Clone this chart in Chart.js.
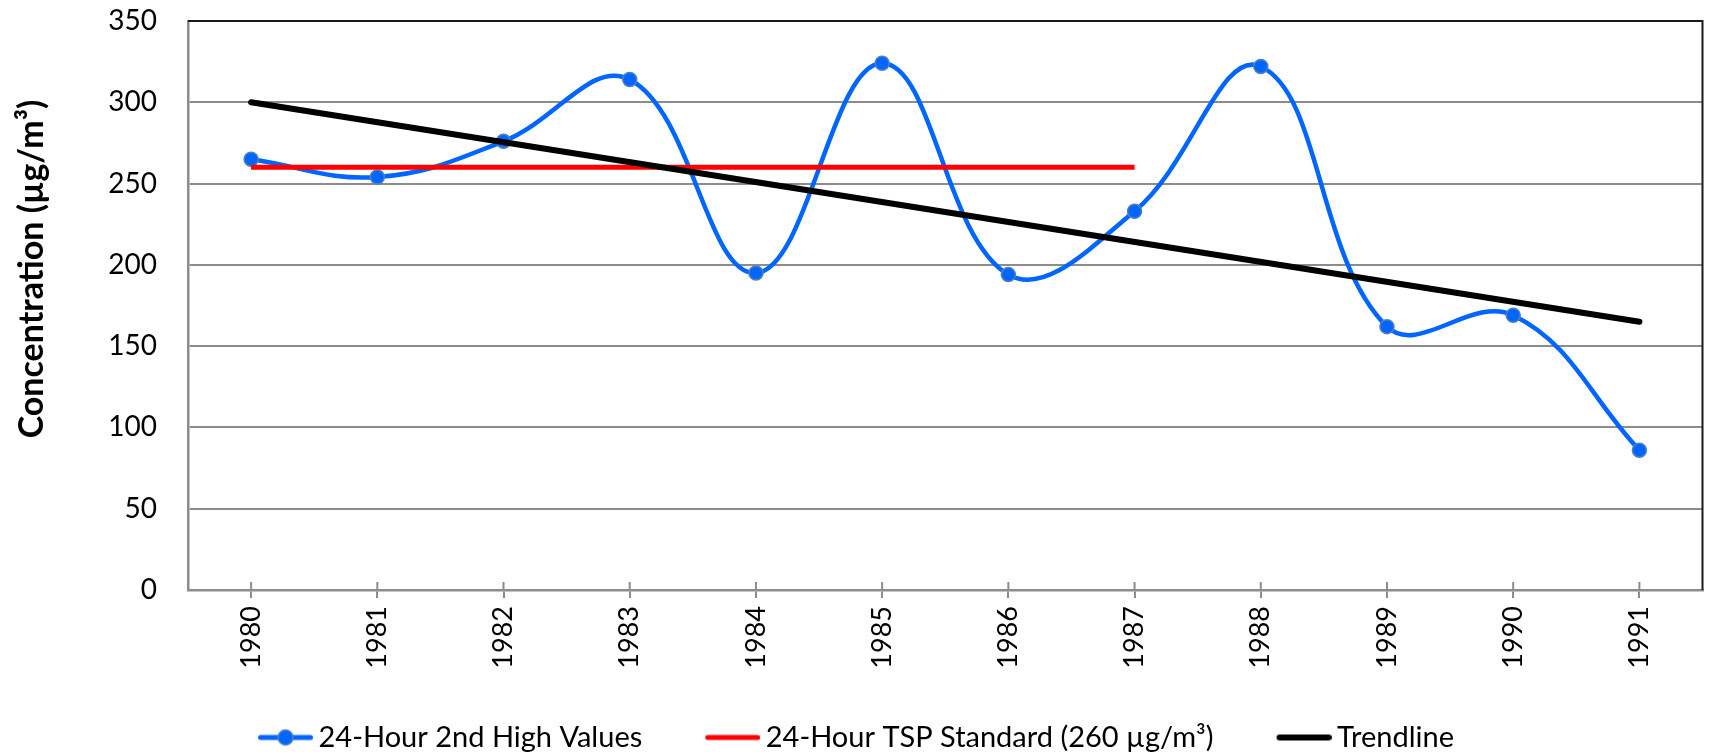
<!DOCTYPE html>
<html>
<head>
<meta charset="utf-8">
<script src="https://cdn.jsdelivr.net/npm/chart.js@4.4.1/dist/chart.umd.min.js"></script>
<style>
  html, body { margin: 0; padding: 0; background: #fff; }
  #wrap { width: 1711px; height: 756px; }
</style>
</head>
<body>
<div id="wrap"><canvas id="chart" width="1711" height="756"></canvas></div>
<script>
// ─── Data ──────────────────────────────────────────────────
const years = ['1980', '1981', '1982', '1983', '1984', '1985', '1986', '1987', '1988', '1989', '1990', '1991'];
const secondHigh = [265, 254, 276, 314, 195, 324, 194, 233, 322, 162, 169, 86];
const tspStandard = [260, 260, 260, 260, 260, 260, 260, 260, null, null, null, null];
const trendline = [300, null, null, null, null, null, null, null, null, null, null, 165];
const yTicks = [0, 50, 100, 150, 200, 250, 300, 350];

const seriesNames = ['24-Hour 2nd High Values', '24-Hour TSP Standard (260 µg/m³)', 'Trendline'];
const yTitle = 'Concentration (µg/m³)';

// ─── Palette ───────────────────────────────────────────────
const BLUE = '#0066ff';
const BLUE_EDGE = '#4f81bd';
const RED = '#ff0000';
const BLACK = '#000000';
const GRID = '#8c8c8c';
const FONT = "Lato, 'Open Sans', sans-serif";

// legend box is wide so the gap between entries comes out right;
// the visible line sits at its right end, next to the text
const LEGEND_BOX = 99;
function legendSymbol(color, width, withDot) {
  const c = document.createElement('canvas');
  c.width = LEGEND_BOX + 18; c.height = 22;
  const g = c.getContext('2d');
  const x1 = c.width - 55 + width / 2, x2 = c.width - width / 2;
  g.strokeStyle = color;
  g.lineWidth = width;
  g.lineCap = 'round';
  g.beginPath();
  g.moveTo(x1, 11); g.lineTo(x2, 11);
  g.stroke();
  if (withDot) {
    g.beginPath();
    g.arc((x1 + x2) / 2, 11, 7.5, 0, Math.PI * 2);
    g.fillStyle = BLUE;
    g.fill();
    g.lineWidth = 1.5;
    g.strokeStyle = BLUE_EDGE;
    g.stroke();
  }
  return c;
}
const symbols = [legendSymbol(BLUE, 5, true), legendSymbol(RED, 5, false), legendSymbol(BLACK, 6, false)];

// black frame on top and right of the plot, x tick marks crossing the axis, y title
const framePlugin = {
  id: 'frame',
  beforeDatasetsDraw(chart) {
    const { ctx, chartArea: a, scales: { x } } = chart;
    ctx.save();
    ctx.strokeStyle = GRID;
    ctx.lineWidth = 2;
    x.ticks.forEach((t, i) => {
      const px = x.getPixelForTick(i);
      ctx.beginPath();
      ctx.moveTo(px, a.bottom - 8);
      ctx.lineTo(px, a.bottom);
      ctx.stroke();
    });
    ctx.restore();
  },
  afterDraw(chart) {
    const { ctx, chartArea: a } = chart;
    ctx.save();
    ctx.strokeStyle = '#1a1a1a';
    ctx.lineWidth = 2;
    ctx.beginPath();
    ctx.moveTo(a.left, a.top);
    ctx.lineTo(a.right, a.top);
    ctx.lineTo(a.right, a.bottom);
    ctx.stroke();

    ctx.translate(32, 269);
    ctx.rotate(-Math.PI / 2);
    ctx.font = 'bold 34px ' + FONT;
    ctx.fillStyle = '#000';
    ctx.textAlign = 'center';
    ctx.textBaseline = 'middle';
    ctx.fillText(yTitle, 0, 0);
    ctx.restore();
  }
};

const PAD_LEFT = -46;

new Chart(document.getElementById('chart'), {
  type: 'line',
  data: {
    labels: years,
    datasets: [
      {
        label: seriesNames[0],
        data: secondHigh,
        order: 3,
        borderColor: BLUE,
        borderWidth: 4.5,
        tension: 0.4,
        pointRadius: 7,
        pointBackgroundColor: BLUE,
        pointBorderColor: BLUE_EDGE,
        pointBorderWidth: 1.5,
        fill: false
      },
      {
        label: seriesNames[1],
        data: tspStandard,
        order: 2,
        borderColor: RED,
        borderWidth: 5,
        pointRadius: 0,
        tension: 0,
        fill: false
      },
      {
        label: seriesNames[2],
        data: trendline,
        order: 1,
        spanGaps: true,
        borderColor: BLACK,
        borderWidth: 6,
        borderCapStyle: 'round',
        pointRadius: 0,
        tension: 0,
        fill: false
      }
    ]
  },
  options: {
    responsive: false,
    animation: false,
    layout: { padding: { left: PAD_LEFT, right: 6, top: 21, bottom: -6 } },
    plugins: {
      tooltip: { enabled: false },
      legend: {
        position: 'bottom',
        labels: {
          usePointStyle: true,
          pointStyleWidth: LEGEND_BOX,
          padding: 10,
          color: '#000',
          font: { family: FONT, size: 29 },
          sort: (a, b) => a.datasetIndex - b.datasetIndex,
          generateLabels(chart) {
            const items = Chart.defaults.plugins.legend.labels.generateLabels(chart);
            items.forEach(it => { it.pointStyle = symbols[it.datasetIndex]; });
            return items;
          }
        }
      }
    },
    scales: {
      x: {
        type: 'category',
        offset: true,
        afterFit(scale) { scale.height = 123; },
        border: { color: GRID, width: 2.5 },
        grid: { drawOnChartArea: false, drawTicks: true, tickLength: 8, color: GRID, lineWidth: 2 },
        ticks: {
          color: '#000',
          font: { family: FONT, size: 27 },
          minRotation: 90,
          maxRotation: 90,
          padding: 8,
          autoSkip: false
        }
      },
      y: {
        min: 0,
        max: 350,
        afterFit(scale) { scale.width = 188 - PAD_LEFT; },
        afterBuildTicks(scale) { scale.ticks = yTicks.map(v => ({ value: v })); },
        border: { color: GRID, width: 2.5 },
        // invisible tick marks only push the labels away from the axis
        grid: { color: GRID, lineWidth: 2, drawTicks: true, tickLength: 27, tickColor: 'rgba(0,0,0,0)' },
        ticks: {
          color: '#000',
          font: { family: FONT, size: 28 },
          padding: 4
        }
      }
    }
  },
  plugins: [framePlugin]
});
</script>
</body>
</html>
